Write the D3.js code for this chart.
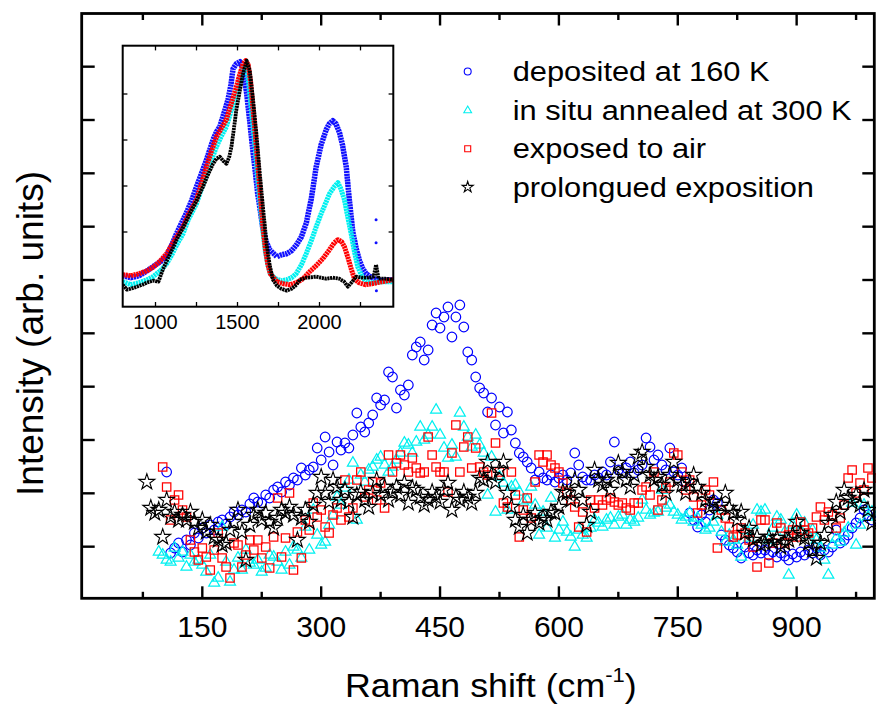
<!DOCTYPE html>
<html><head><meta charset="utf-8">
<script src="https://cdn.jsdelivr.net/npm/d3@7/dist/d3.min.js"></script>
<style>body{margin:0;background:#fff;} svg{display:block;font-family:"Liberation Sans",Arial,sans-serif;}</style>
</head><body><svg id="chart" width="876" height="708"></svg>
<script>
// ---------- DATA ----------
const ramanShift = [80,85,90,95,
100,105,110,115,120,125,130,135,140,145,150,155,160,165,170,175,180,185,190,195,
200,205,210,215,220,225,230,235,240,245,250,255,260,265,270,275,280,285,290,295,
300,305,310,315,320,325,330,335,340,345,350,355,360,365,370,375,380,385,390,395,
400,405,410,415,420,425,430,435,440,445,450,455,460,465,470,475,480,485,490,495,
500,505,510,515,520,525,530,535,540,545,550,555,560,565,570,575,580,585,590,595,
600,605,610,615,620,625,630,635,640,645,650,655,660,665,670,675,680,685,690,695,
700,705,710,715,720,725,730,735,740,745,750,755,760,765,770,775,780,785,790,795,
800,805,810,815,820,825,830,835,840,845,850,855,860,865,870,875,880,885,890,895,
900,905,910,915,920,925,930,935,940,945,950,955,960,965,970,975,980,985,990,995];

const deposited160K = [null,null,null,null,
null,128,47,52,57,48,60,55,67,62,72,67,75,70,78,80,76,83,88,85,
90,88,96,102,98,97,105,102,110,113,108,118,115,122,120,132,125,130,133,152,
140,163,148,135,158,150,157,152,165,187,173,168,177,185,202,195,200,228,223,192,
210,205,215,245,253,258,240,250,275,287,272,283,293,263,283,295,273,248,240,223,
212,207,188,202,175,193,167,188,170,157,147,143,138,132,120,128,122,120,125,118,
122,125,120,127,147,135,123,120,120,125,122,128,125,138,158,130,127,132,138,127,
130,135,162,153,140,145,135,130,152,128,125,132,118,87,80,73,85,78,90,100,
97,65,60,55,52,48,42,53,47,45,50,47,50,45,48,43,47,44,40,46,
43,48,45,50,47,52,45,50,48,53,70,57,60,65,72,77,82,90,85,80];

const annealed300K = [null,null,null,48,
45,40,38,52,42,48,33,45,38,40,35,28,45,17,22,73,38,18,30,42,
30,50,37,35,40,28,32,45,43,38,30,48,35,53,50,42,73,50,90,65,
55,58,75,85,103,95,112,120,137,80,125,118,130,133,140,143,135,128,133,140,
147,157,155,147,158,173,160,165,173,190,165,152,142,155,143,187,173,163,153,165,
155,147,105,143,88,123,117,90,113,115,108,98,100,113,95,65,88,72,102,62,
70,78,68,63,53,70,65,62,72,80,77,73,80,82,75,83,85,75,80,78,
82,100,90,85,87,88,110,92,95,88,85,80,83,87,78,82,75,70,72,78,
85,68,58,65,60,55,43,70,62,75,90,88,90,60,72,83,80,68,25,75,
85,70,77,65,70,60,52,40,25,55,62,58,67,72,97,55,75,95,83,88];

const exposedToAir = [null,null,null,null,
133,113,80,100,105,90,83,60,48,40,52,43,30,50,67,42,33,22,57,55,
33,45,60,50,60,42,53,32,63,102,43,62,107,30,68,42,80,70,97,83,
90,73,67,85,92,80,120,83,92,120,128,103,110,118,100,117,92,145,128,137,
145,135,128,142,132,127,128,163,145,133,128,128,108,147,175,128,153,163,132,152,
133,128,125,187,157,128,97,93,128,105,63,90,102,82,118,145,138,145,135,132,
128,117,107,100,93,73,88,68,100,92,100,95,100,102,98,95,97,92,90,97,
97,110,113,105,128,90,100,112,118,147,145,128,110,120,103,87,95,110,105,118,
52,90,82,73,63,65,72,67,60,53,33,80,80,37,57,77,72,57,65,70,
63,78,70,67,72,83,93,80,88,85,72,82,95,122,130,107,117,110,132,122];

const prolongedExposition = [118,92,87,90,
63,100,83,88,80,85,80,88,78,72,80,68,75,63,60,55,57,70,78,90,
68,40,75,85,90,80,87,78,72,82,90,87,93,85,60,82,90,78,95,107,
123,107,98,120,113,100,110,98,83,105,108,100,93,107,120,105,113,100,108,113,
105,117,97,112,110,103,95,100,108,103,98,110,117,90,103,100,108,103,97,107,
122,120,138,125,118,130,138,107,93,80,73,85,67,80,87,77,82,80,88,87,
93,108,107,100,120,110,100,75,88,130,120,115,120,110,123,137,128,120,113,125,
143,148,133,125,120,123,115,107,125,138,120,115,107,118,125,113,107,100,93,98,
87,95,107,92,87,80,88,67,72,60,63,55,57,63,58,62,53,57,60,65,
78,67,62,57,50,42,57,65,77,85,98,88,110,102,98,105,95,110,90,77];

const seriesNames = ["deposited at 160 K","in situ annealed at 300 K","exposed to air","prolongued exposition"];
const seriesColors = ["#0000ff","#00f0f0","#ff0000","#000000"];

const xMajorTicks = [150,300,450,600,750,900];
const xMinorTicks = [75,225,375,525,675,825,975];
const yTickValues = [53.33,106.67,160,213.33,266.67,320,373.33,426.67,480,533.33];

// Inset spectra [Raman shift, intensity]
const insetBlue = [[800,31],[850,29],[900,31],[950,36],[985,40],[1030,45],[1068,51],[1100,62],[1128,73],[1160,84],[1189,94],[1220,106],[1250,120],[1280,133],[1311,147],[1351,167],[1372,175],[1392,180],[1420,195],[1442,207],[1460,222],[1473,238],[1493,243],[1515,245],[1536,236],[1556,213],[1575,185],[1593,157],[1610,133],[1623,113],[1640,95],[1653,80],[1675,65],[1696,57],[1740,50],[1770,52],[1800,53],[1830,56],[1860,62],[1890,70],[1920,84],[1950,108],[1980,140],[2010,162],[2041,177],[2060,183],[2081,186],[2100,183],[2122,174],[2140,162],[2163,140],[2180,110],[2203,75],[2224,58],[2244,46],[2264,38],[2284,33],[2310,30],[2345,27],[2380,26],[2420,27],[2450,27]];
const insetCyan = [[800,25],[850,22],[900,24],[950,27],[985,30],[1030,36],[1068,43],[1100,52],[1130,62],[1168,73],[1200,87],[1250,103],[1280,118],[1311,133],[1340,146],[1372,160],[1400,170],[1432,180],[1460,195],[1493,213],[1515,227],[1534,240],[1550,242],[1565,228],[1580,205],[1595,180],[1610,155],[1625,125],[1640,100],[1655,75],[1670,55],[1685,42],[1700,33],[1730,28],[1770,26],[1800,27],[1830,29],[1858,33],[1890,42],[1919,53],[1950,66],[1980,80],[2010,93],[2041,105],[2061,113],[2090,120],[2112,124],[2130,118],[2152,107],[2172,90],[2193,73],[2213,55],[2233,40],[2260,30],[2284,25],[2320,24],[2380,25],[2450,25]];
const insetRed = [[800,32],[850,31],[900,33],[950,36],[990,40],[1030,46],[1068,53],[1100,62],[1130,70],[1168,80],[1200,92],[1250,107],[1280,123],[1311,140],[1340,155],[1372,170],[1400,178],[1432,187],[1460,202],[1493,220],[1515,233],[1534,243],[1550,246],[1565,242],[1580,225],[1593,200],[1610,170],[1625,140],[1640,110],[1655,80],[1670,58],[1685,42],[1700,33],[1740,25],[1780,23],[1820,22],[1860,24],[1900,28],[1940,35],[1980,41],[2020,48],[2061,57],[2090,64],[2112,67],[2135,65],[2152,60],[2172,50],[2193,38],[2213,28],[2240,24],[2280,22],[2320,23],[2380,25],[2450,27]];
const insetBlack = [[800,22],[826,17],[870,19],[920,22],[946,24],[985,26],[1018,25],[1047,38],[1080,50],[1110,60],[1128,67],[1170,80],[1209,93],[1250,106],[1290,120],[1320,132],[1351,143],[1372,148],[1392,150],[1412,146],[1433,143],[1450,150],[1463,160],[1478,178],[1493,197],[1513,215],[1534,233],[1556,246],[1575,236],[1595,207],[1617,170],[1635,135],[1655,100],[1678,62],[1696,42],[1716,27],[1740,21],[1767,18],[1800,16],[1830,18],[1860,22],[1879,27],[1920,29],[1980,30],[2040,28],[2081,29],[2120,28],[2150,25],[2173,20],[2200,25],[2223,30],[2260,29],[2300,29],[2330,30],[2345,42],[2360,28],[2400,28],[2450,27]];
const insetBlueStray = [[2345,87],[2345,64],[2347,16]];
const insetXTicks = [1000,1250,1500,1750,2000,2250];
const insetXLabels = [1000,1500,2000];
const insetYTicks = [74.7,120.7,166.7,212.7];

// ---------- DRAW ----------
const svg = d3.select("#chart");
const x = d3.scaleLinear().domain([-2.2, 998]).range([81.7, 874.3]);
const y = d3.scaleLinear().domain([1.7, 586.5]).range([598.3, 13.5]);

const [x0, x1] = x.range();
const [yb, yt] = y.range();

// data markers
const shapes = [d3.symbolCircle, d3.symbolTriangle, d3.symbolSquare, d3.symbolStar];
const sizes = [72, 52, 70, 78];
const widths = [1.2, 1.2, 1.25, 1.1];
const allSeries = [deposited160K, annealed300K, exposedToAir, prolongedExposition];
const plot = svg.append("g");
allSeries.forEach((vals, si) => {
  const pts = ramanShift.map((r, i) => [r, vals[i]]).filter(d => d[1] != null && d[0] >= x.domain()[0] && d[0] <= x.domain()[1]);
  plot.append("g").selectAll("path").data(pts).join("path")
    .attr("transform", d => `translate(${x(d[0])},${y(d[1])})`)
    .attr("d", d3.symbol().type(shapes[si]).size(sizes[si]))
    .attr("fill", "none")
    .attr("stroke", seriesColors[si])
    .attr("stroke-width", widths[si]);
});

// frame
svg.append("rect").attr("x", x0).attr("y", yt).attr("width", x1 - x0).attr("height", yb - yt)
  .attr("fill", "none").attr("stroke", "#000").attr("stroke-width", 2.8);

const ticks = svg.append("g").attr("stroke", "#000").attr("stroke-width", 2.4);
xMajorTicks.forEach(t => {
  ticks.append("line").attr("x1", x(t)).attr("x2", x(t)).attr("y1", yb).attr("y2", yb - 12);
  ticks.append("line").attr("x1", x(t)).attr("x2", x(t)).attr("y1", yt).attr("y2", yt + 12);
});
xMinorTicks.forEach(t => {
  ticks.append("line").attr("x1", x(t)).attr("x2", x(t)).attr("y1", yb).attr("y2", yb - 6.5);
  ticks.append("line").attr("x1", x(t)).attr("x2", x(t)).attr("y1", yt).attr("y2", yt + 6.5);
});
yTickValues.forEach(t => {
  ticks.append("line").attr("x1", x0).attr("x2", x0 + 13).attr("y1", y(t)).attr("y2", y(t));
  ticks.append("line").attr("x1", x1).attr("x2", x1 - 12).attr("y1", y(t)).attr("y2", y(t));
});

svg.append("g").selectAll("text").data(xMajorTicks).join("text")
  .attr("x", d => x(d)).attr("y", 636.7).attr("text-anchor", "middle")
  .attr("font-size", 30).attr("fill", "#000").text(d => d);

// axis titles
const xt = svg.append("text").attr("transform", "translate(345,696.7) scale(1.1,1)")
  .attr("font-size", 32.5).attr("fill", "#000");
xt.append("tspan").text("Raman shift (cm");
xt.append("tspan").attr("font-size", 20).attr("dy", -15).text("-1");
xt.append("tspan").attr("dy", 15).text(")");

svg.append("text").attr("transform", "translate(43,333.5) rotate(-90)")
  .attr("text-anchor", "middle").attr("font-size", 37).attr("fill", "#000")
  .text("Intensity (arb. units)");

// legend
const legY = [81, 120, 158.3, 196.7];
const legSizes = [38, 26, 36, 38];
seriesNames.forEach((name, i) => {
  svg.append("path").attr("transform", `translate(467.7,${legY[i] - 9.5})`)
    .attr("d", d3.symbol().type(shapes[i]).size(legSizes[i]))
    .attr("fill", "none").attr("stroke", seriesColors[i]).attr("stroke-width", 1.1);
  svg.append("text").attr("transform", `translate(512.7,${legY[i]}) scale(1.1,1)`)
    .attr("font-size", 28).attr("fill", "#000").text(name);
});

// ---------- INSET ----------
const ix = d3.scaleLinear().domain([800, 2450]).range([122.7, 393.3]);
const iy = d3.scaleLinear().domain([0, 261]).range([306.7, 45.7]);
const inset = svg.append("g");
inset.append("rect").attr("x", 122.7).attr("y", 45.7).attr("width", 270.6).attr("height", 261)
  .attr("fill", "#fff");
const clipId = "insetClip";
svg.append("defs").append("clipPath").attr("id", clipId).append("rect")
  .attr("x", 122.7).attr("y", 45.7).attr("width", 270.6).attr("height", 261);
const ig = inset.append("g").attr("clip-path", `url(#${clipId})`);
const line = d3.line().x(d => ix(d[0])).y(d => iy(d[1]));
[[insetBlue, "#1010ff", 5.5], [insetCyan, "#00f0f0", 5], [insetRed, "#ff0000", 5], [insetBlack, "#000", 3.8]].forEach(([data, col, w]) => {
  ig.append("path").datum(data).attr("d", line).attr("fill", "none")
    .attr("stroke", col).attr("stroke-width", w).attr("stroke-linejoin", "round").attr("stroke-dasharray", "2.2,0.6");
});
ig.selectAll("circle.stray").data(insetBlueStray).join("circle").attr("class", "stray")
  .attr("cx", d => ix(d[0])).attr("cy", d => iy(d[1])).attr("r", 1.5).attr("fill", "#1010ff");
inset.append("rect").attr("x", 122.7).attr("y", 45.7).attr("width", 270.6).attr("height", 261)
  .attr("fill", "none").attr("stroke", "#000").attr("stroke-width", 2);
const it = inset.append("g").attr("stroke", "#000").attr("stroke-width", 1.3);
insetXTicks.forEach(t => {
  it.append("line").attr("x1", ix(t)).attr("x2", ix(t)).attr("y1", 306.7).attr("y2", 302);
  it.append("line").attr("x1", ix(t)).attr("x2", ix(t)).attr("y1", 45.7).attr("y2", 50.4);
});
insetYTicks.forEach(t => {
  it.append("line").attr("x1", 122.7).attr("x2", 127.4).attr("y1", iy(t)).attr("y2", iy(t));
  it.append("line").attr("x1", 393.3).attr("x2", 388.6).attr("y1", iy(t)).attr("y2", iy(t));
});
inset.selectAll("text").data(insetXLabels).join("text")
  .attr("x", d => ix(d)).attr("y", 329.3).attr("text-anchor", "middle")
  .attr("font-size", 20).attr("fill", "#000").text(d => d);
</script></body></html>
